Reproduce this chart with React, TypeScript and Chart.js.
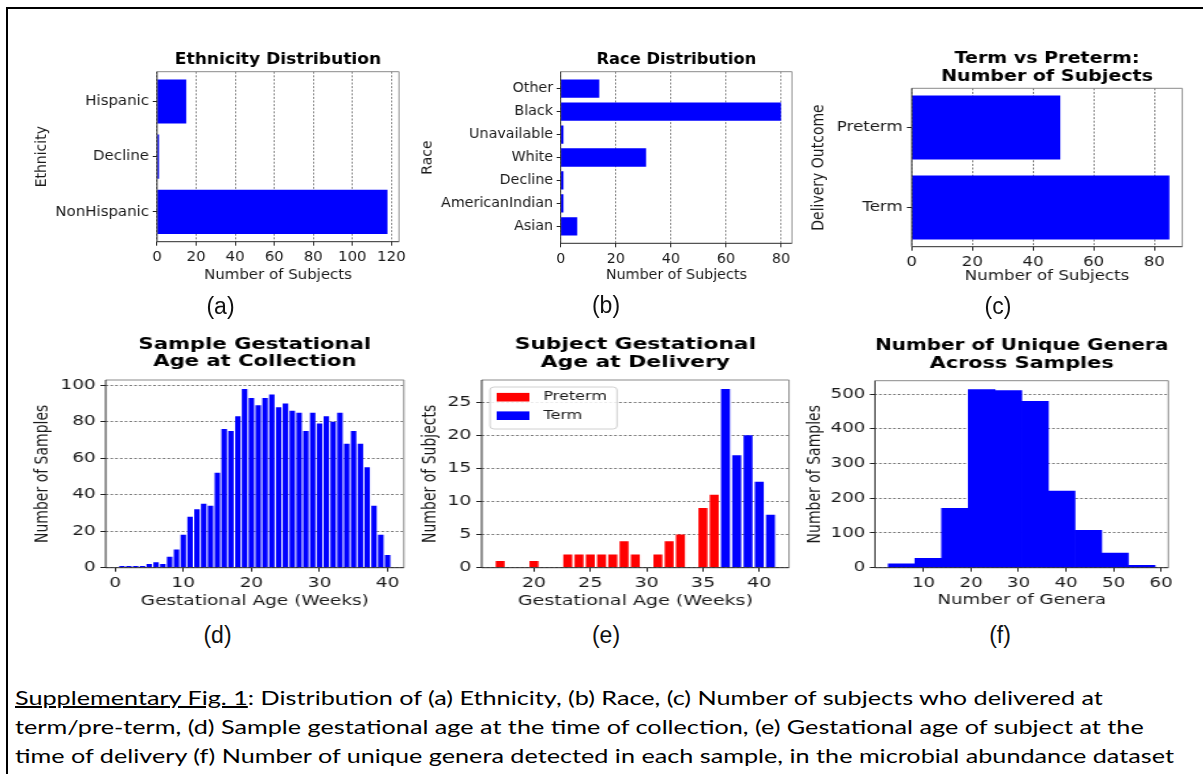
import React, { useEffect, useRef } from "react";
import { Chart, registerables } from "chart.js";

Chart.register(...registerables);

// ---------- data ----------
const ethnicityLabels = ["NonHispanic", "Decline", "Hispanic"];
const ethnicityCounts = [118, 1, 15];
const ethnicityTicks = [0, 20, 40, 60, 80, 100, 120];

const raceLabels = ["Asian", "AmericanIndian", "Decline", "White", "Unavailable", "Black", "Other"];
const raceCounts = [6, 1, 1, 31, 1, 80, 14];
const raceTicks = [0, 20, 40, 60, 80];

const outcomeLabels = ["Term", "Preterm"];
const outcomeCounts = [85, 49];
const outcomeTicks = [0, 20, 40, 60, 80];

const collectionWeeks = [1, 2, 3, 4, 5, 6, 7, 8, 9, 10, 11, 12, 13, 14, 15, 16, 17, 18, 19, 20, 21, 22, 23, 24, 25, 26, 27, 28, 29, 30, 31, 32, 33, 34, 35, 36, 37, 38, 39, 40];
const collectionCounts = [1, 1, 1, 1, 2, 3, 2, 6, 10, 18, 28, 32, 35, 34, 52, 76, 75, 83, 98, 93, 89, 93, 95, 88, 90, 86, 85, 75, 85, 79, 83, 80, 85, 68, 75, 68, 55, 34, 18, 7];
const collectionXTicks = [0, 10, 20, 30, 40];
const collectionYTicks = [0, 20, 40, 60, 80, 100];

const pretermWeeks = [17, 20, 23, 24, 25, 26, 27, 28, 29, 31, 32, 33, 35, 36];
const pretermCounts = [1, 1, 2, 2, 2, 2, 2, 4, 2, 2, 4, 5, 9, 11];
const termWeeks = [37, 38, 39, 40, 41];
const termCounts = [27, 17, 20, 13, 8];
const deliveryXTicks = [20, 25, 30, 35, 40];
const deliveryYTicks = [0, 5, 10, 15, 20, 25];

const generaBinEdges = [2.6, 8.21, 13.82, 19.43, 25.04, 30.65, 36.26, 41.87, 47.48, 53.09, 58.7];
const generaCounts = [11, 27, 171, 513, 510, 479, 221, 108, 42, 7];
const generaXTicks = [10, 20, 30, 40, 50, 60];
const generaYTicks = [0, 100, 200, 300, 400, 500];

// ---------- style ----------
const FONT = "'DejaVu Sans', sans-serif";
const TEXT = "#1a1a1a";
const BLUE = "#0000ff";
const RED = "#ff0000";
const GRID = "rgba(60,60,60,0.85)";
const TICK_SIZE = 14;
const AXIS_LH = 1.2;
const TITLE_SIZE = 16;
const TITLE_LH = 1.1;
const TICK_LEN = 4;
const MARGIN = 0.05;
const BAR_WIDTH = 0.8;

// matplotlib-style 5% data margins
function span(lo: number, hi: number): [number, number] {
  const m = (hi - lo) * MARGIN;
  return [lo - m, hi + m];
}

type Box = { x: number; y: number; w: number; h: number };
type Area = { L: number; R: number; T: number; B: number };
type PanelSpec = {
  id: string;
  box: Box;
  stretch: number;
  area: Area;
  yTitleX: number;
  xTitleY: number;
  titleY: number;
  title: string[];
  make: (g: Geo) => any;
};
type Geo = {
  iw: number;
  ih: number;
  s: number;
  padding: { left: number; right: number; top: number; bottom: number };
  yWidth: number;
  xHeight: number;
  titlePad: { top: number; bottom: number };
};

function geometry(spec: PanelSpec): Geo {
  const iw = Math.round(spec.box.w / spec.stretch);
  const s = spec.box.w / iw;
  const ix = (px: number) => (px - spec.box.x) / s;
  const iy = (py: number) => py - spec.box.y;
  const axisLH = TICK_SIZE * AXIS_LH;
  const titleLH = TITLE_SIZE * TITLE_LH;
  const left = ix(spec.area.L);
  const right = ix(spec.area.R);
  const top = iy(spec.area.T);
  const bottom = iy(spec.area.B);
  const scaleLeft = ix(spec.yTitleX) - axisLH / 2;
  const titleTop = iy(spec.titleY) - titleLH / 2;
  const xHeight = iy(spec.xTitleY) + axisLH / 2 - bottom;
  return {
    iw,
    ih: spec.box.h,
    s,
    padding: { left: scaleLeft, right: iw - right, top: 0, bottom: spec.box.h - bottom - xHeight },
    yWidth: left - scaleLeft,
    xHeight,
    titlePad: { top: titleTop, bottom: top - titleTop - spec.title.length * titleLH },
  };
}

function axis(p: {
  range: [number, number];
  ticks: number[];
  labels?: string[];
  title: string;
  size: number;
  grid: boolean;
}) {
  return {
    type: "linear",
    min: p.range[0],
    max: p.range[1],
    bounds: "data",
    offset: false,
    afterBuildTicks: (a: any) => {
      a.ticks = p.ticks.map((v) => ({ value: v }));
    },
    afterFit: (a: any) => {
      if (a.isHorizontal()) a.height = p.size;
      else a.width = p.size;
    },
    ticks: {
      autoSkip: false,
      maxRotation: 0,
      minRotation: 0,
      padding: 3.5,
      color: TEXT,
      font: { family: FONT, size: TICK_SIZE, lineHeight: AXIS_LH },
      callback: (v: number) => (p.labels ? p.labels[Math.round(v)] : String(v)),
    },
    grid: {
      display: true,
      offset: false,
      drawOnChartArea: p.grid,
      color: GRID,
      lineWidth: 0.8,
      drawTicks: true,
      tickLength: TICK_LEN,
      tickColor: "#222",
      tickWidth: 1,
    },
    border: { display: false, dash: [2, 1.6] },
    title: {
      display: true,
      text: p.title,
      color: TEXT,
      padding: 0,
      font: { family: FONT, size: TICK_SIZE, lineHeight: AXIS_LH },
    },
  };
}

const framePlugin = {
  id: "axesFrame",
  afterDatasetsDraw(chart: any) {
    const { ctx, chartArea: a } = chart;
    ctx.save();
    ctx.lineWidth = 1;
    ctx.strokeStyle = "#8a8a8a";
    ctx.beginPath();
    ctx.moveTo(a.left, a.top);
    ctx.lineTo(a.right, a.top);
    ctx.lineTo(a.right, a.bottom);
    ctx.stroke();
    ctx.strokeStyle = "#2a2a2a";
    ctx.beginPath();
    ctx.moveTo(a.left, a.top);
    ctx.lineTo(a.left, a.bottom);
    ctx.lineTo(a.right, a.bottom);
    ctx.stroke();
    ctx.restore();
  },
};

// legend box drawn inside the upper-left corner of the plot area
const insideLegend = {
  id: "insideLegend",
  afterDraw(chart: any, _args: any, o: any) {
    if (!o || !o.display) return;
    const { ctx, chartArea } = chart;
    const x = chartArea.left + o.dx;
    const y = chartArea.top + o.dy;
    ctx.save();
    ctx.beginPath();
    ctx.roundRect(x, y, o.w, o.h, 3);
    ctx.fillStyle = "rgba(255,255,255,0.85)";
    ctx.fill();
    ctx.lineWidth = 1;
    ctx.strokeStyle = "#d0d0d0";
    ctx.stroke();
    ctx.font = `${o.fontSize}px ${FONT}`;
    ctx.textBaseline = "middle";
    ctx.textAlign = "left";
    chart.data.datasets.forEach((ds: any, i: number) => {
      const cy = y + o.row0 + i * o.rowGap;
      ctx.fillStyle = ds.backgroundColor;
      ctx.fillRect(x + o.patchX, cy - o.patchH / 2, o.patchW, o.patchH);
      ctx.fillStyle = TEXT;
      ctx.fillText(ds.label, x + o.textX, cy);
    });
    ctx.restore();
  },
};

function baseOptions(g: Geo, title: string[]) {
  return {
    responsive: false,
    animation: false,
    devicePixelRatio: 1,
    events: [],
    layout: { padding: g.padding },
    plugins: {
      legend: { display: false },
      tooltip: { enabled: false },
      title: {
        display: true,
        text: title,
        fullSize: false,
        color: "#000",
        font: { family: FONT, size: TITLE_SIZE, weight: "bold", lineHeight: TITLE_LH },
        padding: g.titlePad,
      },
    },
  };
}

function horizontalBars(labels: string[], counts: number[], ticks: number[], yTitle: string) {
  return (g: Geo, title: string[]) => {
    const hi = Math.max(...counts);
    const yRange = span(-BAR_WIDTH / 2, labels.length - 1 + BAR_WIDTH / 2);
    return {
      type: "bar",
      data: {
        datasets: [
          {
            label: yTitle,
            data: counts.map((c, i) => ({ x: c, y: i })),
            backgroundColor: BLUE,
            borderWidth: 0,
            barPercentage: BAR_WIDTH,
            categoryPercentage: 1,
          },
        ],
      },
      options: {
        ...baseOptions(g, title),
        indexAxis: "y",
        scales: {
          x: axis({ range: [0, span(0, hi)[1]], ticks, title: "Number of Subjects", size: g.xHeight, grid: true }),
          y: axis({ range: yRange, ticks: labels.map((_, i) => i), labels, title: yTitle, size: g.yWidth, grid: false }),
        },
      },
      plugins: [framePlugin],
    };
  };
}

const panels: PanelSpec[] = [
  {
    id: "a",
    box: { x: 0, y: 40, w: 420, h: 260 },
    stretch: 1.07,
    area: { L: 157, R: 399, T: 71.7, B: 241.7 },
    yTitleX: 42.1,
    xTitleY: 275.8,
    titleY: 60,
    title: ["Ethnicity Distribution"],
    make: (g) => horizontalBars(ethnicityLabels, ethnicityCounts, ethnicityTicks, "Ethnicity")(g, ["Ethnicity Distribution"]),
  },
  {
    id: "b",
    box: { x: 405, y: 40, w: 410, h: 260 },
    stretch: 1.02,
    area: { L: 560.7, R: 792, T: 71.7, B: 243.3 },
    yTitleX: 428,
    xTitleY: 275.8,
    titleY: 60,
    title: ["Race Distribution"],
    make: (g) => horizontalBars(raceLabels, raceCounts, raceTicks, "Race")(g, ["Race Distribution"]),
  },
  {
    id: "c",
    box: { x: 790, y: 40, w: 413, h: 260 },
    stretch: 1.19,
    area: { L: 911.7, R: 1182.3, T: 88.3, B: 246.7 },
    yTitleX: 819.3,
    xTitleY: 276.8,
    titleY: 59,
    title: ["Term vs Preterm:", "Number of Subjects"],
    make: (g) =>
      horizontalBars(outcomeLabels, outcomeCounts, outcomeTicks, "Delivery Outcome")(g, ["Term vs Preterm:", "Number of Subjects"]),
  },
  {
    id: "d",
    box: { x: 0, y: 320, w: 420, h: 300 },
    stretch: 1.32,
    area: { L: 105.7, R: 403.9, T: 380, B: 567.7 },
    yTitleX: 43.2,
    xTitleY: 601.5,
    titleY: 344.5,
    title: ["Sample Gestational", "Age at Collection"],
    make: (g) => ({
      type: "bar",
      data: {
        datasets: [
          {
            label: "Samples",
            data: collectionWeeks.map((w, i) => ({ x: w, y: collectionCounts[i] })),
            backgroundColor: BLUE,
            borderWidth: 0,
            barPercentage: BAR_WIDTH,
            categoryPercentage: 1,
          },
        ],
      },
      options: {
        ...baseOptions(g, ["Sample Gestational", "Age at Collection"]),
        scales: {
          x: axis({
            range: span(collectionWeeks[0] - BAR_WIDTH / 2, collectionWeeks[collectionWeeks.length - 1] + BAR_WIDTH / 2),
            ticks: collectionXTicks,
            title: "Gestational Age (Weeks)",
            size: g.xHeight,
            grid: false,
          }),
          y: axis({
            range: [0, span(0, Math.max(...collectionCounts))[1]],
            ticks: collectionYTicks,
            title: "Number of Samples",
            size: g.yWidth,
            grid: true,
          }),
        },
      },
      plugins: [framePlugin],
    }),
  },
  {
    id: "e",
    box: { x: 400, y: 320, w: 410, h: 300 },
    stretch: 1.36,
    area: { L: 481.7, R: 789, T: 380, B: 567.7 },
    yTitleX: 430,
    xTitleY: 601.5,
    titleY: 345,
    title: ["Subject Gestational", "Age at Delivery"],
    make: (g) => ({
      type: "bar",
      data: {
        datasets: [
          {
            label: "Preterm",
            data: pretermWeeks.map((w, i) => ({ x: w, y: pretermCounts[i] })),
            backgroundColor: RED,
            borderWidth: 0,
            barPercentage: BAR_WIDTH,
            categoryPercentage: 1,
          },
          {
            label: "Term",
            data: termWeeks.map((w, i) => ({ x: w, y: termCounts[i] })),
            backgroundColor: BLUE,
            borderWidth: 0,
            barPercentage: BAR_WIDTH,
            categoryPercentage: 1,
          },
        ],
      },
      options: {
        ...baseOptions(g, ["Subject Gestational", "Age at Delivery"]),
        scales: {
          x: {
            ...axis({
              range: span(pretermWeeks[0] - BAR_WIDTH / 2, termWeeks[termWeeks.length - 1] + BAR_WIDTH / 2),
              ticks: deliveryXTicks,
              title: "Gestational Age (Weeks)",
              size: g.xHeight,
              grid: false,
            }),
            stacked: true,
          },
          y: axis({
            range: [0, span(0, Math.max(...pretermCounts, ...termCounts))[1]],
            ticks: deliveryYTicks,
            title: "Number of Subjects",
            size: g.yWidth,
            grid: true,
          }),
        },
      },
      plugins: [framePlugin, insideLegend],
    }),
  },
  {
    id: "f",
    box: { x: 790, y: 320, w: 413, h: 300 },
    stretch: 1.3,
    area: { L: 875, R: 1168.3, T: 380.7, B: 567.7 },
    yTitleX: 814.8,
    xTitleY: 600.1,
    titleY: 345.8,
    title: ["Number of Unique Genera", "Across Samples"],
    make: (g) => ({
      type: "bar",
      data: {
        datasets: [
          {
            label: "Samples",
            data: generaCounts.map((c, i) => ({ x: (generaBinEdges[i] + generaBinEdges[i + 1]) / 2, y: c })),
            backgroundColor: BLUE,
            borderWidth: 0,
            barPercentage: 1,
            categoryPercentage: 1,
          },
        ],
      },
      options: {
        ...baseOptions(g, ["Number of Unique Genera", "Across Samples"]),
        scales: {
          x: axis({
            range: span(generaBinEdges[0], generaBinEdges[generaBinEdges.length - 1]),
            ticks: generaXTicks,
            title: "Number of Genera",
            size: g.xHeight,
            grid: false,
          }),
          y: axis({
            range: [0, span(0, Math.max(...generaCounts))[1]],
            ticks: generaYTicks,
            title: "Number of Samples",
            size: g.yWidth,
            grid: true,
          }),
        },
      },
      plugins: [framePlugin],
    }),
  },
];

function Panel({ spec }: { spec: PanelSpec }) {
  const ref = useRef<HTMLCanvasElement>(null);
  const g = geometry(spec);
  useEffect(() => {
    if (!ref.current) return;
    const config = spec.make(g);
    if (spec.id === "e") {
      const s = g.s;
      config.options.plugins.insideLegend = {
        display: true,
        dx: 8.3 / s,
        dy: 7,
        w: 127 / s,
        h: 42,
        row0: 10.2,
        rowGap: 18.5,
        patchX: 6.7 / s,
        patchW: 24,
        patchH: 8.6,
        textX: 53.3 / s,
        fontSize: 11.8,
      };
    }
    const chart = new Chart(ref.current, config);
    return () => chart.destroy();
  }, []);
  return (
    <canvas
      ref={ref}
      width={g.iw}
      height={g.ih}
      style={{
        position: "absolute",
        left: spec.box.x,
        top: spec.box.y,
        width: spec.box.w,
        height: spec.box.h,
      }}
    />
  );
}

const panelTags = [
  { text: "(a)", cx: 220.5, baseline: 314.5 },
  { text: "(b)", cx: 606, baseline: 313.8 },
  { text: "(c)", cx: 998, baseline: 314.2 },
  { text: "(d)", cx: 217.5, baseline: 643 },
  { text: "(e)", cx: 606, baseline: 643.2 },
  { text: "(f)", cx: 1000, baseline: 643.2 },
];

export default function App() {
  return (
    <div
      style={{
        position: "fixed",
        left: 0,
        top: 0,
        width: 1203,
        height: 774,
        background: "#fff",
        overflow: "hidden",
      }}
    >
      <div
        style={{
          position: "absolute",
          left: 6,
          top: 7,
          width: 1400,
          height: 1000,
          borderTop: "2px solid #000",
          borderLeft: "2px solid #000",
        }}
      />
      {panels.map((p) => (
        <Panel key={p.id} spec={p} />
      ))}
      {panelTags.map((t) => (
        <div
          key={t.text}
          style={{
            position: "absolute",
            left: t.cx - 40,
            width: 80,
            top: t.baseline - 19.5,
            textAlign: "center",
            fontFamily: "'Liberation Sans', Arial, sans-serif",
            fontSize: 23,
            lineHeight: "23px",
            color: "#111",
          }}
        >
          {t.text}
        </div>
      ))}
      <div
        style={{
          position: "absolute",
          left: 15,
          top: 683.1,
          fontFamily: "Lato, sans-serif",
          fontSize: 20,
          lineHeight: "29px",
          color: "#000",
          whiteSpace: "nowrap",
          transform: "scaleX(1.26)",
          transformOrigin: "0 0",
        }}
      >
        <span style={{ textDecoration: "underline" }}>Supplementary Fig. 1</span>: Distribution of (a) Ethnicity, (b) Race, (c)
        Number of subjects who delivered at
        <br />
        term/pre-term, (d) Sample gestational age at the time of collection, (e) Gestational age of subject at the
        <br />
        time of delivery (f) Number of unique genera detected in each sample, in the microbial abundance dataset
      </div>
    </div>
  );
}
